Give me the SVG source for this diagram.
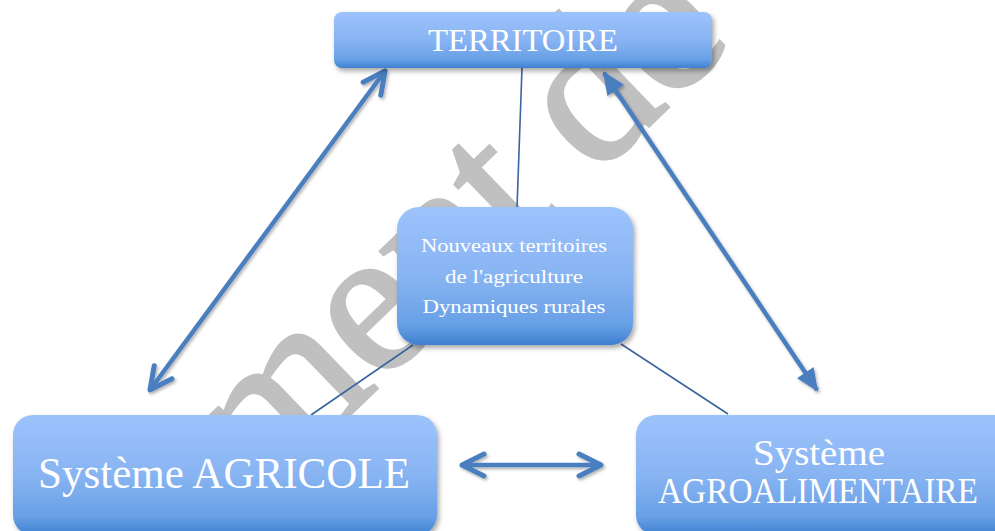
<svg xmlns="http://www.w3.org/2000/svg" width="995" height="531" viewBox="0 0 995 531">
<defs>
<linearGradient id="g" x1="0" y1="0" x2="0" y2="1">
<stop offset="0" stop-color="#9dc3fc"/>
<stop offset="0.5" stop-color="#88b4f2"/>
<stop offset="0.85" stop-color="#68a0e6"/>
<stop offset="1" stop-color="#3e80d0"/>
</linearGradient>
<filter id="sh" x="-10%" y="-10%" width="125%" height="130%">
<feDropShadow dx="2" dy="3" stdDeviation="2.5" flood-color="#000" flood-opacity="0.35"/>
</filter>
<filter id="ash" x="-10%" y="-10%" width="125%" height="125%">
<feDropShadow dx="1.5" dy="2" stdDeviation="1.5" flood-color="#000" flood-opacity="0.3"/>
</filter>
<marker id="chev" markerUnits="userSpaceOnUse" viewBox="-26 -16 32 32" markerWidth="32" markerHeight="32" refX="0" refY="0" orient="auto-start-reverse">
<path d="M-22,-11 L0,0 L-22,11" fill="none" stroke="#4a7ebf" stroke-width="5" stroke-linecap="round" stroke-linejoin="round"/>
</marker>
<marker id="tri" markerUnits="userSpaceOnUse" viewBox="-26 -16 32 32" markerWidth="32" markerHeight="32" refX="0" refY="0" orient="auto-start-reverse">
<path d="M2,0 L-21,-10 L-21,10 Z" fill="#4a7ebf"/>
</marker>
</defs>
<style>
.box{fill:url(#g);filter:url(#sh)}
.t{fill:#fff;font-family:"Liberation Serif","DejaVu Serif",serif;text-anchor:middle}
.arrow{stroke:#4a7ebf;stroke-width:4.5;fill:none}
.thin{stroke:#3a659e;stroke-width:1.6;fill:none}
.wm{fill:#c0c0c0;stroke:#c0c0c0;stroke-width:3;font-family:"Liberation Serif","DejaVu Serif",serif;font-size:210px;letter-spacing:-2px}
</style>
<rect width="995" height="531" fill="#fff"/>
<text class="wm" transform="translate(188 571) rotate(-44)">ument de</text>
<g id="connectors">
<line class="thin" x1="522" y1="68" x2="517" y2="208"/>
<line class="thin" x1="413" y1="345" x2="311" y2="415"/>
<line class="thin" x1="621" y1="344" x2="728" y2="414"/>
<g filter="url(#ash)">
<line class="arrow" x1="150" y1="390" x2="385" y2="71" marker-start="url(#chev)" marker-end="url(#chev)"/>
<line class="arrow" x1="604" y1="73" x2="817" y2="390" marker-start="url(#tri)" marker-end="url(#tri)"/>
<line class="arrow" x1="462" y1="465" x2="601" y2="465" marker-start="url(#chev)" marker-end="url(#chev)"/>
</g>
</g>
<g id="territoire">
<rect class="box" x="334" y="12" width="378" height="56" rx="8"/>
<text class="t" x="523" y="51" font-size="32" textLength="190" lengthAdjust="spacingAndGlyphs">TERRITOIRE</text>
</g>
<g id="nouveaux">
<rect class="box" x="397" y="207" width="236" height="138" rx="22"/>
<text class="t" x="514" y="252" font-size="19" textLength="186" lengthAdjust="spacingAndGlyphs">Nouveaux territoires</text>
<text class="t" x="514" y="283" font-size="19" textLength="138" lengthAdjust="spacingAndGlyphs">de l'agriculture</text>
<text class="t" x="514" y="313" font-size="19" textLength="183" lengthAdjust="spacingAndGlyphs">Dynamiques rurales</text>
</g>
<g id="agricole">
<rect class="box" x="13" y="415" width="424" height="120" rx="20"/>
<text class="t" x="224" y="488" font-size="44" textLength="372" lengthAdjust="spacingAndGlyphs">Système AGRICOLE</text>
</g>
<g id="agroalimentaire">
<rect class="box" x="636" y="415" width="380" height="120" rx="20"/>
<text class="t" x="819" y="465" font-size="35" textLength="132" lengthAdjust="spacingAndGlyphs">Système</text>
<text class="t" x="818" y="503" font-size="35" textLength="320" lengthAdjust="spacingAndGlyphs">AGROALIMENTAIRE</text>
</g>
</svg>
